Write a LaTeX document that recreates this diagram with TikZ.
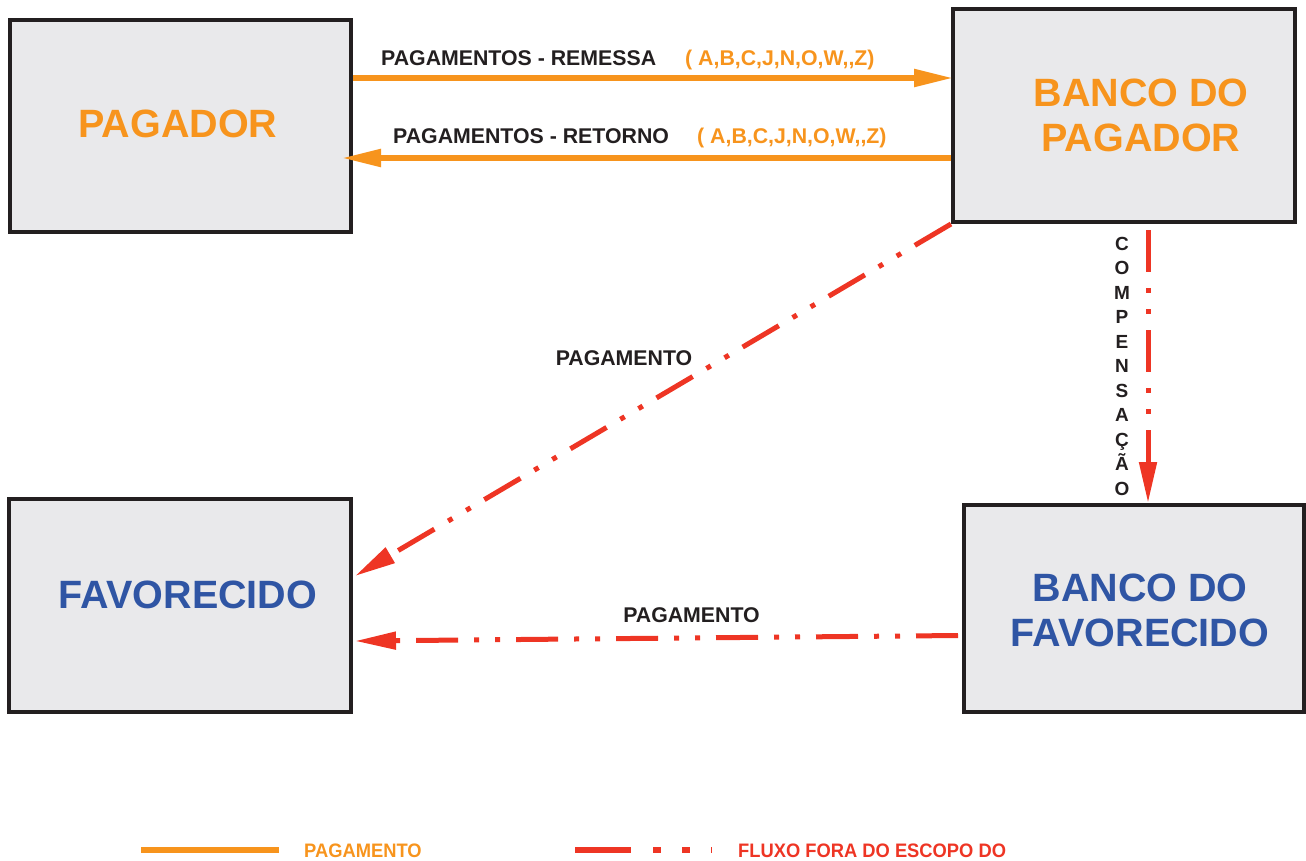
\documentclass[tikz,border=0pt]{standalone}
\usepackage{fontspec}
\setmainfont{Liberation Sans}
\newfontfamily\narrowsans[FakeStretch=0.94]{Liberation Sans}
\usetikzlibrary{arrows.meta,calc}
\definecolor{cOrange}{HTML}{F7941D}
\definecolor{cRed}{HTML}{EE3524}
\definecolor{cBlue}{HTML}{2F55A4}
\definecolor{cDark}{HTML}{231F20}
\definecolor{cFill}{HTML}{E9E9EB}
\begin{document}
\begin{tikzpicture}[x=1pt,y=-1pt,
  box/.style={draw=cDark,fill=cFill,line width=4pt,rectangle,inner sep=0pt},
  bigtext/.style={font=\fontsize{39.5}{45}\selectfont\bfseries,align=center,inner sep=0pt},
  lbl/.style={font=\fontsize{21.3}{24}\selectfont\bfseries,text=cDark,inner sep=0pt,anchor=base west},
  codes/.style={font=\fontsize{21.3}{24}\selectfont\bfseries,text=cOrange,inner sep=0pt,anchor=base west},
  vletter/.style={font=\fontsize{19}{22}\selectfont\bfseries,text=cDark,inner sep=0pt,anchor=base},
  legtext/.style={font=\narrowsans\fontsize{19.5}{22}\selectfont\bfseries,inner sep=0pt,anchor=base west},
  orangearrow/.style={draw=cOrange,line width=5.5pt,-{Triangle[length=39pt,width=17pt]}},
  redflow/.style={draw=cRed,line width=5pt,dash pattern=on 42pt off 16pt on 5pt off 16pt on 5pt off 16pt},
  redarrow/.style={redflow,-{Triangle[length=41pt,width=17pt]}}
]
\useasboundingbox (0,0) rectangle (1306,860);

% boxes
\node[box,minimum width=341.5pt,minimum height=212.5pt] (pag) at (180.25,125.75) {};
\node[box,minimum width=342pt,minimum height=213pt] (bp) at (1124,115.5) {};
\node[box,minimum width=342pt,minimum height=213pt] (fav) at (180,605.5) {};
\node[box,minimum width=340pt,minimum height=207pt] (bf) at (1134,608.5) {};

% box texts
\node[bigtext,text=cOrange] (tpag) at (178,124) {PAGADOR};
\node[bigtext,text=cOrange] (tbp) at (1141,115) {BANCO DO\\PAGADOR};
\node[bigtext,text=cBlue] (tfav) at (188,594.5) {FAVORECIDO};
\node[bigtext,text=cBlue] (tbf) at (1140,610.5) {BANCO DO\\FAVORECIDO};

% top orange arrows
\draw[orangearrow] (pag.east |- 0,78) -- ($(bp.west |- 0,78)+(2,0)$);
\draw[orangearrow] (bp.west |- 0,158) -- ($(pag.east |- 0,158)+(-11,0)$);
\node[lbl] (lrem) at (381,65) {PAGAMENTOS - REMESSA};
\node[codes] (crem) at (685,65) {( A,B,C,J,N,O,W,\kern0pt,Z)};
\node[lbl] (lret) at (393,143) {PAGAMENTOS - RETORNO};
\node[codes] (cret) at (697,143) {( A,B,C,J,N,O,W,\kern0pt,Z)};

% diagonal payment
\coordinate (diagtip) at ($(fav.east |- 0,576)+(2,0)$);
\draw[redarrow] (bp.south west) -- (diagtip);
\node[lbl,anchor=base] (ldiag) at (624,365) {PAGAMENTO};

% bottom payment
\draw[redarrow] ($(bf.west |- 0,635.5)+(-4,0)$) -- ($(fav.east |- 0,641)+(2,0)$);
\node[lbl,anchor=base] (lbot) at (691.5,622) {PAGAMENTO};

% compensacao
\draw[redarrow] (bp.south -| 1148,0) ++(0,6) -- (bf.north -| 1148,0);
\foreach \l [count=\i from 0] in {C,O,M,P,E,N,S,A,Ç,Ã,O}{
  \node[vletter] (comp\i) at (1122,{250+24.5*\i}) {\l};
}

% legend
\draw[cOrange,line width=6pt] (141,850) -- (279,850);
\node[legtext,text=cOrange] (legpag) at (304,857) {PAGAMENTO};
\draw[cRed,line width=6pt,dash pattern=on 56pt off 22pt on 8pt off 21pt on 8pt off 21pt on 1pt off 10pt] (575,850) -- (712,850);
\node[legtext,text=cRed] (legfluxo) at (738,857) {FLUXO FORA DO ESCOPO DO};
\end{tikzpicture}
\end{document}
